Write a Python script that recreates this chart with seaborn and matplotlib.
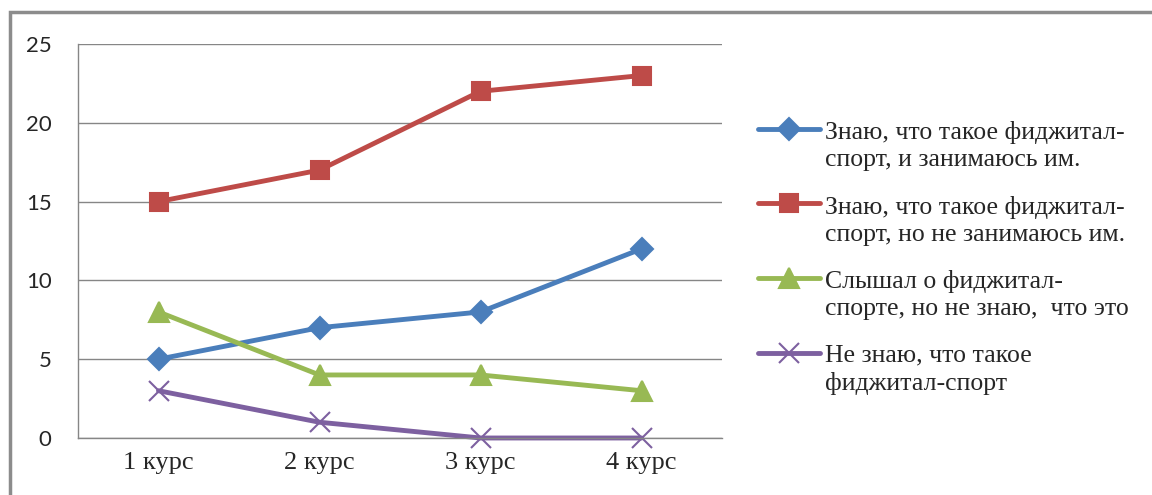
import pandas as pd
import matplotlib.pyplot as plt
import matplotlib.patches as mpatches
from matplotlib.lines import Line2D
from matplotlib.legend_handler import HandlerLine2D
import seaborn as sns

# Data
courses = ["1 курс", "2 курс", "3 курс", "4 курс"]
know_and_do = [5, 7, 8, 12]
know_not_do = [15, 17, 22, 23]
heard_of = [8, 4, 4, 3]
dont_know = [3, 1, 0, 0]
series_names = [
    "Знаю, что такое фиджитал-\nспорт, и занимаюсь им.",
    "Знаю, что такое фиджитал-\nспорт, но не занимаюсь им.",
    "Слышал о фиджитал-\nспорте, но не знаю,  что это",
    "Не знаю, что такое\nфиджитал-спорт",
]
y_ticks = [0, 5, 10, 15, 20, 25]

sns.set_style("white")
plt.rcParams['font.family'] = ['Liberation Serif', 'DejaVu Serif']

rows = []
for name, vals in zip(series_names, [know_and_do, know_not_do, heard_of, dont_know]):
    for c, v in zip(courses, vals):
        rows.append({"Курс": c, "Значение": v, "Серия": name})
df = pd.DataFrame(rows)

colors = ["#4A7EBB", "#BE4B48", "#98B954", "#7D60A0"]
markers = ["D", "s", "^", "x"]
msizes = [11, 13, 14, 15]


# legend handle sits next to the first text line, like Excel does
class TopLineHandler(HandlerLine2D):
    def create_artists(self, legend, orig_handle, xdescent, ydescent,
                       width, height, fontsize, trans):
        return super().create_artists(legend, orig_handle, xdescent,
                                      ydescent - 1.3 * fontsize, width, height,
                                      fontsize, trans)


fig = plt.figure(figsize=(11.52, 4.95), dpi=100)
ax = fig.add_axes([78 / 1152, 1 - 438 / 495, (722 - 78) / 1152, (438 - 44) / 495])

for name, clr, mk, ms in zip(series_names, colors, markers, msizes):
    sub = df[df["Серия"] == name]
    sns.lineplot(data=sub, x="Курс", y="Значение", ax=ax, color=clr, marker=mk,
                 markersize=ms, linewidth=3.5, markeredgecolor=clr,
                 markeredgewidth=1.5, label=name, sort=False, clip_on=False)

ax.set_xlim(-0.5, len(courses) - 0.5)
ax.set_ylim(0, 25)
ax.set_yticks(y_ticks)
ax.set_yticklabels([str(t) for t in y_ticks], family=['Lato', 'DejaVu Sans'], fontsize=16)
ax.set_xticks(range(len(courses)))
ax.set_xticklabels(courses, fontsize=19)
ax.set_xticks([i - 0.5 for i in range(len(courses) + 1)], minor=True)
ax.tick_params(axis='x', which='major', length=0, pad=10)
ax.tick_params(axis='x', which='minor', length=5, color="#868686", direction='out')
ax.tick_params(axis='y', length=5, color="#868686", direction='out', pad=14)
ax.set_xlabel("")
ax.set_ylabel("")
ax.grid(True, axis='y', color="#868686", linewidth=1)
for side in ["top", "right"]:
    ax.spines[side].set_visible(False)
for side in ["left", "bottom"]:
    ax.spines[side].set_color("#868686")
    ax.spines[side].set_linewidth(1)

leg = ax.legend(loc="upper left", bbox_to_anchor=(758 / 1152, 1 - 121 / 495),
                bbox_transform=fig.transFigure, frameon=False, fontsize=18.5,
                handlelength=2.4, handletextpad=0.2, labelspacing=0.95,
                borderpad=0, borderaxespad=0,
                handler_map={Line2D: TopLineHandler()})
for t in leg.get_texts():
    t.set_linespacing(1.3)

# chart frame
frame = mpatches.Rectangle((10 / 1152, -0.02), 1.05, 1 - 12 / 495 + 0.02,
                           transform=fig.transFigure, fill=False,
                           edgecolor="#8C8C8C", linewidth=2.5, zorder=-1)
fig.patches.append(frame)

fig.savefig("out.png", dpi=100)
